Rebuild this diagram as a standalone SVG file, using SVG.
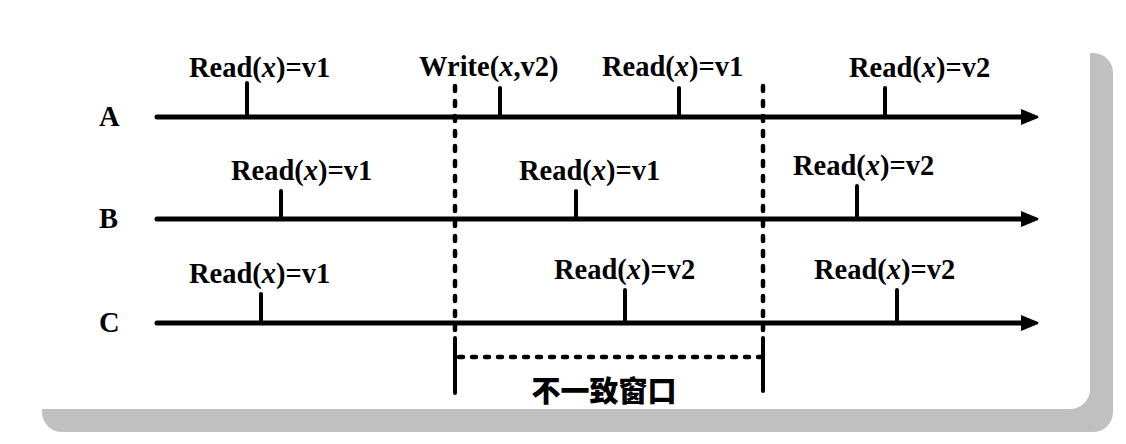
<svg xmlns="http://www.w3.org/2000/svg" width="1126" height="444" viewBox="0 0 1126 444">
<style>
.lbl{font-family:"Liberation Serif","Times New Roman",serif;font-weight:bold;font-size:28.5px;fill:#000}
.it{font-style:italic}
.axis{stroke:#000;stroke-width:5;stroke-linecap:round;fill:none}
.tick{stroke:#000;stroke-width:4;stroke-linecap:round;fill:none}
.dot{stroke:#000;stroke-width:4.5;stroke-linecap:round;stroke-dasharray:5 10;fill:none}
.dash{stroke:#000;stroke-width:4.5;stroke-linecap:round;stroke-dasharray:4 9;fill:none}
.cjk{font-family:"Noto Sans CJK SC",sans-serif;font-weight:900;font-size:29px;fill:#000}
</style>
<defs>
<marker id="arr" viewBox="0 0 18 18" refX="2" refY="9" markerWidth="18" markerHeight="18" markerUnits="userSpaceOnUse" orient="auto">
<path d="M0,1 L17,8 Q18,9 17,10 L0,17 Z" fill="#000"/>
</marker>
</defs>
<g id="frame">
<rect x="42" y="53" width="1071" height="379" rx="20" fill="#c0c0c0"/>
<rect x="10" y="20" width="1080" height="389" rx="20" fill="#ffffff"/>
</g>
<g id="connectors">
<line class="axis" x1="157" y1="117" x2="1023" y2="117" marker-end="url(#arr)"/>
<line class="axis" x1="157" y1="219" x2="1023" y2="219" marker-end="url(#arr)"/>
<line class="axis" x1="157" y1="323" x2="1023" y2="323" marker-end="url(#arr)"/>
<line class="dot" x1="455" y1="86" x2="455" y2="330"/>
<line class="dot" x1="763" y1="86" x2="763" y2="330"/>
<line class="tick" x1="455" y1="338" x2="455" y2="393"/>
<line class="tick" x1="763" y1="338" x2="763" y2="391"/>
<line class="dash" x1="459" y1="357" x2="761" y2="357"/>
</g>
<g id="process-A">
<text class="lbl" x="99" y="126">A</text>
<line class="tick" x1="247" y1="83" x2="247" y2="117"/>
<text class="lbl" x="189" y="77">Read(<tspan class="it">x</tspan>)=v1</text>
<line class="tick" x1="500" y1="88" x2="500" y2="117"/>
<text class="lbl" x="419" y="76">Write(<tspan class="it">x</tspan>,v2)</text>
<line class="tick" x1="679" y1="88" x2="679" y2="117"/>
<text class="lbl" x="602" y="76">Read(<tspan class="it">x</tspan>)=v1</text>
<line class="tick" x1="885" y1="88" x2="885" y2="117"/>
<text class="lbl" x="849" y="77">Read(<tspan class="it">x</tspan>)=v2</text>
</g>
<g id="process-B">
<text class="lbl" x="99" y="228">B</text>
<line class="tick" x1="281" y1="191" x2="281" y2="219"/>
<text class="lbl" x="231" y="180">Read(<tspan class="it">x</tspan>)=v1</text>
<line class="tick" x1="576" y1="191" x2="576" y2="219"/>
<text class="lbl" x="519" y="180">Read(<tspan class="it">x</tspan>)=v1</text>
<line class="tick" x1="857" y1="186" x2="857" y2="219"/>
<text class="lbl" x="793" y="175">Read(<tspan class="it">x</tspan>)=v2</text>
</g>
<g id="process-C">
<text class="lbl" x="99" y="332">C</text>
<line class="tick" x1="261" y1="294" x2="261" y2="323"/>
<text class="lbl" x="189" y="283">Read(<tspan class="it">x</tspan>)=v1</text>
<line class="tick" x1="625" y1="290" x2="625" y2="323"/>
<text class="lbl" x="554" y="279">Read(<tspan class="it">x</tspan>)=v2</text>
<line class="tick" x1="897" y1="290" x2="897" y2="323"/>
<text class="lbl" x="814" y="279">Read(<tspan class="it">x</tspan>)=v2</text>
</g>
<g id="window-label">
<text class="cjk" x="604" y="402" text-anchor="middle">不一致窗口</text>
</g>
</svg>
